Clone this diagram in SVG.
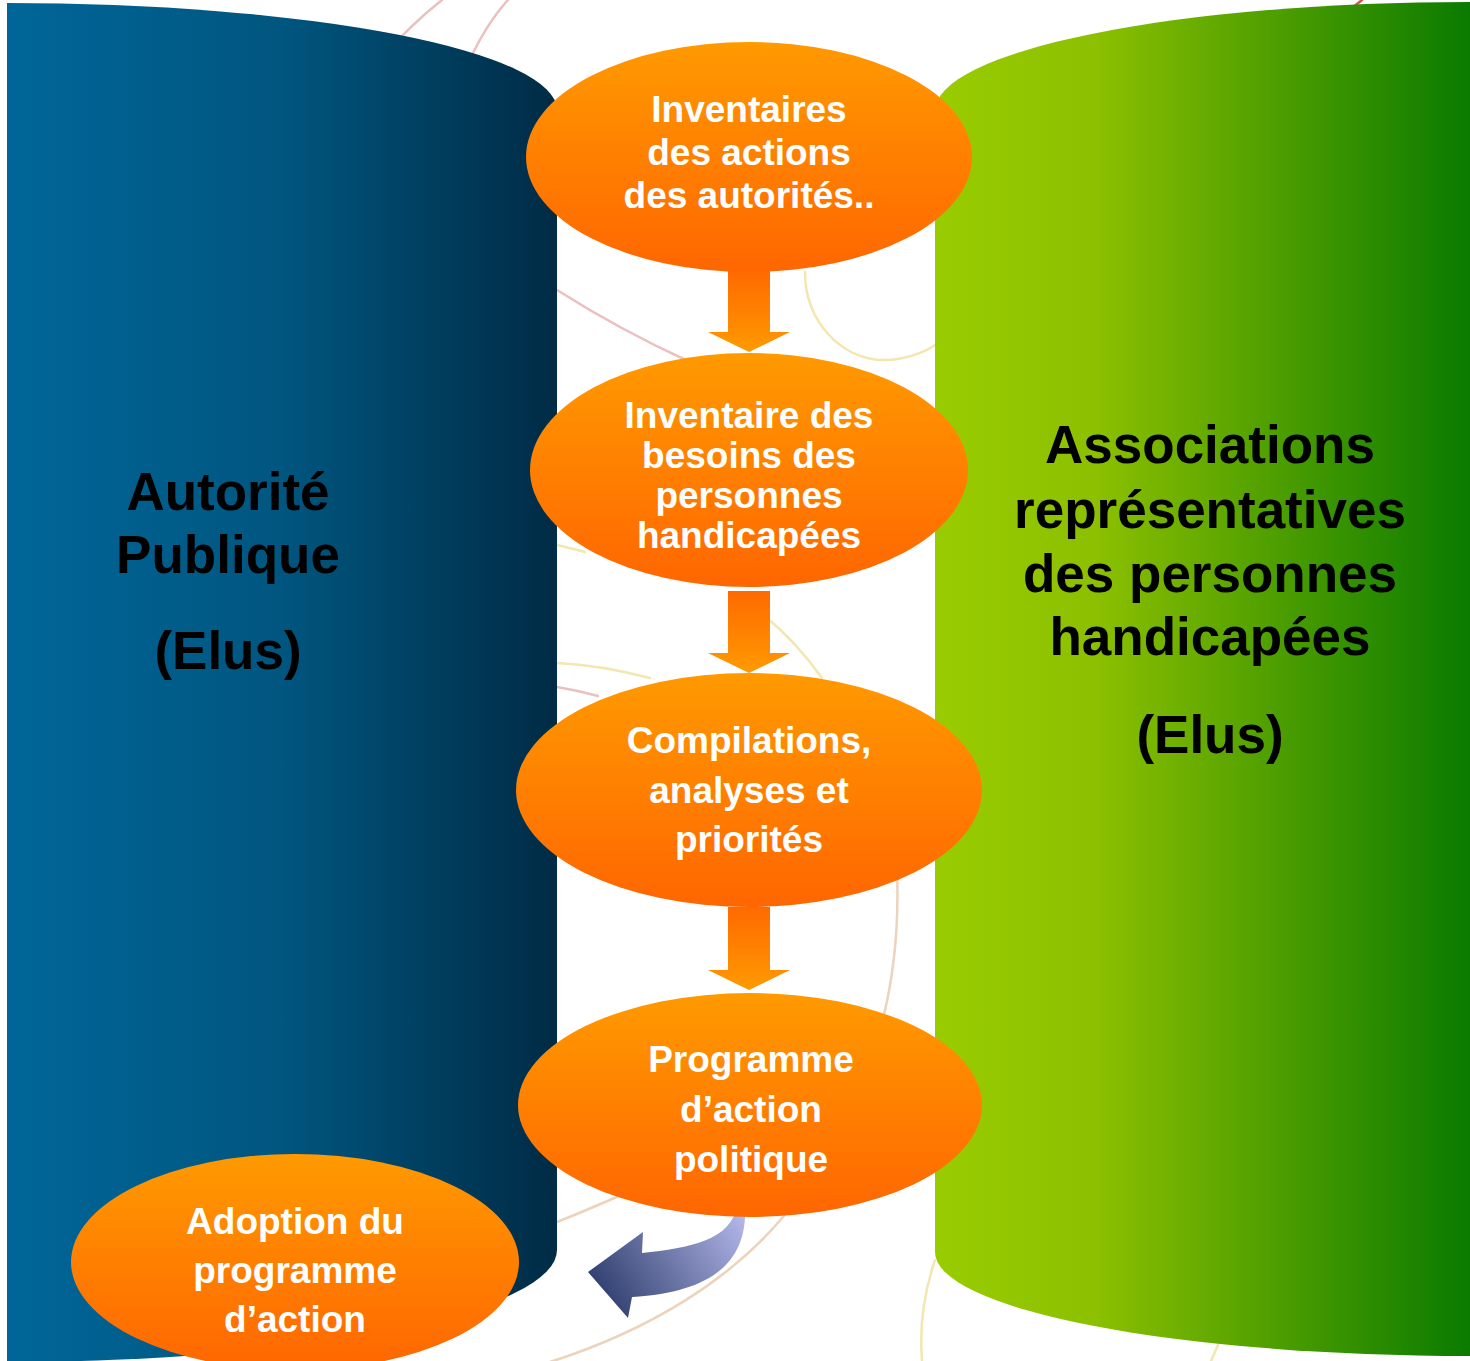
<svg xmlns="http://www.w3.org/2000/svg" width="1470" height="1361" viewBox="0 0 1470 1361">
<style>
  .deco { fill: none; stroke-width: 2.5; stroke-linecap: round; }
  .pink { stroke: #EBC0C0; }
  .yel { stroke: #F3E6B0; }
  .tan { stroke: #EBD3BC; }
  .etext { font-family: "Liberation Sans", Arial, sans-serif; font-weight: bold; font-size: 37px; fill: #FFFFFF; text-anchor: middle; }
  .ltext { font-family: "Liberation Sans", Arial, sans-serif; font-weight: bold; font-size: 53px; fill: #000000; text-anchor: middle; }
  .node { fill: url(#gOrange); }
  .blockarrow { fill: url(#gArrow); }
</style>
<defs>
  <linearGradient id="gBlue" x1="0" y1="0" x2="1" y2="0">
    <stop offset="0" stop-color="#006699"/>
    <stop offset="0.5" stop-color="#00567F"/>
    <stop offset="1" stop-color="#002B45"/>
  </linearGradient>
  <linearGradient id="gGreen" x1="0" y1="0" x2="1" y2="0">
    <stop offset="0" stop-color="#99CC00"/>
    <stop offset="0.3" stop-color="#8CC000"/>
    <stop offset="1" stop-color="#0A7A00"/>
  </linearGradient>
  <linearGradient id="gOrange" x1="0" y1="0" x2="0" y2="1">
    <stop offset="0" stop-color="#FF9A00"/>
    <stop offset="1" stop-color="#FF6600"/>
  </linearGradient>
  <linearGradient id="gArrow" x1="0" y1="0" x2="0" y2="1">
    <stop offset="0" stop-color="#FF6A00"/>
    <stop offset="1" stop-color="#FF9A00"/>
  </linearGradient>
  <linearGradient id="gCurve" gradientUnits="userSpaceOnUse" x1="745" y1="1215" x2="600" y2="1305">
    <stop offset="0" stop-color="#B4B8EA"/>
    <stop offset="1" stop-color="#2C3C6C"/>
  </linearGradient>
</defs>

<rect x="0" y="0" width="1470" height="1361" fill="#FFFFFF"/>

<g id="background-decoration">
  <path class="deco pink" d="M 380 60 Q 410 25 442 0"/>
  <path class="deco pink" d="M 465 70 Q 485 25 508 0"/>
  <path class="deco pink" d="M 557 290 Q 620 330 690 362"/>
  <path class="deco yel" d="M 805 272 C 805 320 840 360 885 360 C 905 360 925 352 935 345"/>
  <path class="deco yel" d="M 557 545 Q 570 548 585 552"/>
  <path class="deco yel" d="M 760 612 Q 795 640 822 678"/>
  <path class="deco yel" d="M 557 663 Q 600 665 650 678"/>
  <path class="deco pink" d="M 557 687 Q 575 690 598 696"/>
  <path class="deco tan" d="M 897 870 C 902 1000 870 1100 783 1217 C 730 1280 650 1330 550 1362"/>
  <path class="deco tan" d="M 557 1222 Q 600 1205 650 1182"/>
  <path class="deco yel" d="M 935 1260 Q 918 1310 922 1361"/>
  <path class="deco yel" d="M 1218 1345 L 1211 1361"/>
  <path class="deco" stroke="#D85050" d="M 1352 8 L 1362 0"/>
</g>

<g id="autorite-publique">
  <path d="M 7 3 A 550 107 0 0 1 557 110 L 557 1250 A 550 112 0 0 1 7 1362 Z" fill="url(#gBlue)"/>
  <text class="ltext" x="228" y="510">Autorité</text>
  <text class="ltext" x="228" y="573">Publique</text>
  <text class="ltext" x="228" y="669">(Elus)</text>
</g>

<g id="associations">
  <path d="M 1470 2 A 535 109 0 0 0 935 111 L 935 1252 A 535 104 0 0 0 1470 1356 Z" fill="url(#gGreen)"/>
  <text class="ltext" x="1210" y="463">Associations</text>
  <text class="ltext" x="1210" y="528">représentatives</text>
  <text class="ltext" x="1210" y="592">des personnes</text>
  <text class="ltext" x="1210" y="655">handicapées</text>
  <text class="ltext" x="1210" y="753">(Elus)</text>
</g>

<g id="connectors">
  <path class="blockarrow" d="M 728 271 L 770 271 L 770 332 L 790 332 L 749 352 L 708 332 L 728 332 Z"/>
  <path class="blockarrow" d="M 728 591 L 770 591 L 770 653 L 790 653 L 749 673 L 708 653 L 728 653 Z"/>
  <path class="blockarrow" d="M 728 907 L 770 907 L 770 970 L 790 970 L 749 990 L 708 970 L 728 970 Z"/>
  <path d="M 745 1205 C 748 1260 715 1292 632 1297 L 628 1318 L 588 1272 L 643 1232 L 642 1253 C 690 1248 732 1240 737 1205 Z" fill="url(#gCurve)"/>
</g>

<g id="node-inventaires-actions">
  <ellipse class="node" cx="749" cy="157" rx="223" ry="115"/>
  <text class="etext" x="749" y="122">Inventaires</text>
  <text class="etext" x="749" y="165">des actions</text>
  <text class="etext" x="749" y="208">des autorités..</text>
</g>

<g id="node-inventaire-besoins">
  <ellipse class="node" cx="749" cy="470" rx="219" ry="117"/>
  <text class="etext" x="749" y="428">Inventaire des</text>
  <text class="etext" x="749" y="468">besoins des</text>
  <text class="etext" x="749" y="508">personnes</text>
  <text class="etext" x="749" y="548">handicapées</text>
</g>

<g id="node-compilations">
  <ellipse class="node" cx="749" cy="790" rx="233" ry="117"/>
  <text class="etext" x="749" y="753">Compilations,</text>
  <text class="etext" x="749" y="803">analyses et</text>
  <text class="etext" x="749" y="852">priorités</text>
</g>

<g id="node-programme">
  <ellipse class="node" cx="750" cy="1105" rx="232" ry="112"/>
  <text class="etext" x="751" y="1072">Programme</text>
  <text class="etext" x="751" y="1122">d’action</text>
  <text class="etext" x="751" y="1172">politique</text>
</g>

<g id="node-adoption">
  <ellipse class="node" cx="295" cy="1262" rx="224" ry="108"/>
  <text class="etext" x="295" y="1234">Adoption du</text>
  <text class="etext" x="295" y="1283">programme</text>
  <text class="etext" x="295" y="1332">d’action</text>
</g>
</svg>
